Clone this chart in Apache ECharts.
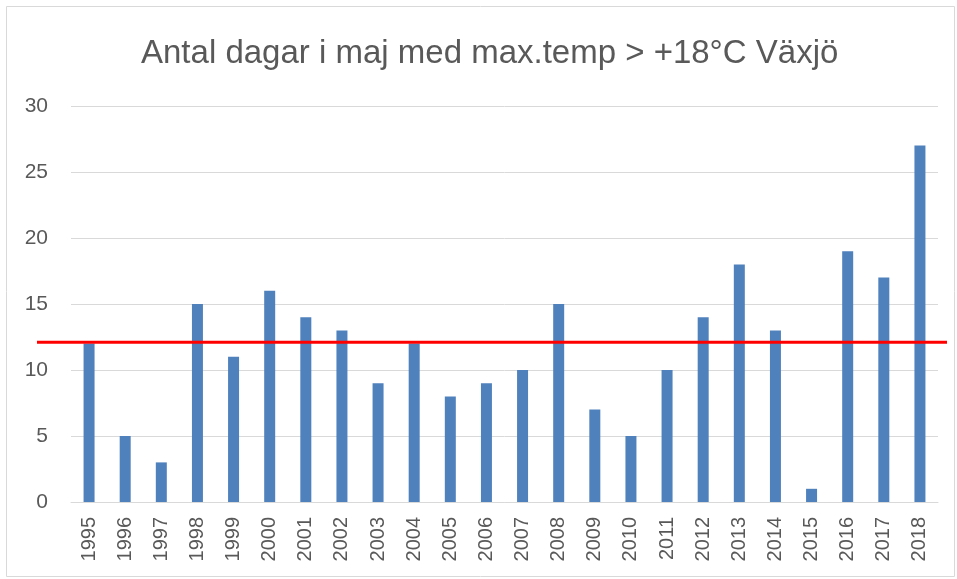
<!DOCTYPE html>
<html>
<head>
<meta charset="utf-8">
<script src="https://cdn.jsdelivr.net/npm/echarts@6/dist/echarts.min.js"></script>
<style>
  html, body { margin: 0; padding: 0; background: #fff; }
  #chart { width: 957px; height: 579px; }
</style>
</head>
<body>
<div id="chart"></div>
<script>
const years = ['1995', '1996', '1997', '1998', '1999', '2000', '2001', '2002', '2003', '2004', '2005', '2006',
  '2007', '2008', '2009', '2010', '2011', '2012', '2013', '2014', '2015', '2016', '2017', '2018']
const days = [12, 5, 3, 15, 11, 16, 14, 13, 9, 12, 8, 9, 10, 15, 7, 5, 10, 14, 18, 13, 1, 19, 17, 27]
// röd referenslinje
const refLevel = 12.1
const refLine = [[0, refLevel], [1, refLevel]]

const textColor = '#595959'
const fontFamily = 'Liberation Sans, sans-serif'

const chart = echarts.init(document.getElementById('chart'))
chart.setOption({
  animation: false,
  textStyle: { fontFamily: fontFamily },
  title: {
    text: 'Antal dagar i maj med max.temp > +18°C Växjö',
    left: 136,
    top: 32,
    textStyle: { fontFamily: fontFamily, fontSize: 33, fontWeight: 'normal', color: textColor }
  },
  graphic: [{
    type: 'rect',
    shape: { x: 6.5, y: 6.5, width: 948, height: 570 },
    style: { fill: 'none', stroke: '#D9D9D9', lineWidth: 1 },
    silent: true
  }],
  grid: [
    { left: 71, right: 19, top: 106, bottom: 77 },
    { left: 37, right: 10, top: 106, bottom: 77 }
  ],
  xAxis: [{
    type: 'category',
    data: years,
    gridIndex: 0,
    axisLine: { lineStyle: { color: '#D9D9D9', width: 1 } },
    axisTick: { show: false },
    axisLabel: { rotate: 90, fontSize: 20, color: textColor, margin: 15, fontFamily: fontFamily }
  }, {
    type: 'value',
    gridIndex: 1,
    min: 0,
    max: 1,
    show: false
  }],
  yAxis: [{
    type: 'value',
    gridIndex: 0,
    min: 0,
    max: 30,
    interval: 5,
    axisLine: { show: false },
    axisTick: { show: false },
    splitLine: { lineStyle: { color: '#D9D9D9', width: 1 } },
    axisLabel: { fontSize: 21, color: textColor, margin: 23, fontFamily: fontFamily }
  }, {
    type: 'value',
    gridIndex: 1,
    min: 0,
    max: 30,
    show: false
  }],
  series: [
    {
      name: 'Dagar',
      type: 'bar',
      xAxisIndex: 0,
      yAxisIndex: 0,
      data: days,
      barWidth: 11,
      itemStyle: { color: '#4F81BD' }
    },
    {
      name: 'Referens',
      type: 'line',
      xAxisIndex: 1,
      yAxisIndex: 1,
      data: refLine,
      symbol: 'none',
      lineStyle: { color: '#FF0000', width: 3 },
      z: 5
    }
  ]
})
</script>
</body>
</html>
